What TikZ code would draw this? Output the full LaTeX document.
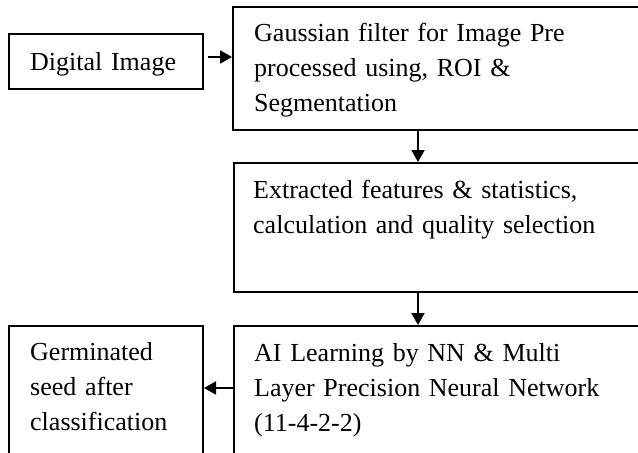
\documentclass[tikz,border=0pt]{standalone}
\usepackage{fontspec}
\setmainfont{Liberation Serif}
\usetikzlibrary{arrows.meta}
\begin{document}
\begin{tikzpicture}[x=1pt,y=-1pt,
  boxnode/.style={draw=black,line width=2pt,rectangle,inner sep=0pt,anchor=north west},
  txt/.style={anchor=base west,inner sep=0pt,text width=420pt,align=left,
    font=\fontsize{26}{35}\selectfont},
  arr/.style={line width=2pt,-{Triangle[length=12pt,width=13pt]}}]
\clip (0,0) rectangle (638,453);
\fill[white] (0,0) rectangle (638,453);
% boxes
\node[boxnode,minimum width=194pt,minimum height=55pt] (dig) at (8,33) {};
\node[boxnode,minimum width=480pt,minimum height=123pt] (gauss) at (232,6) {};
\node[boxnode,minimum width=480pt,minimum height=129pt] (ext) at (233,162) {};
\node[boxnode,minimum width=480pt,minimum height=200pt] (ai) at (233,325) {};
\node[boxnode,minimum width=194pt,minimum height=200pt] (germ) at (8,325) {};
% texts
\node[txt] (tdig) at (30,70) {Digital Image};
\node[txt] (tgauss) at (254,41) {Gaussian filter for Image Pre\\processed using, ROI \&\\Segmentation};
\node[txt] (text) at (253,198) {Extracted features \& statistics,\\calculation and quality selection};
\node[txt] (tai) at (254,361) {AI Learning by NN \& Multi\\Layer Precision Neural Network\\(11-4-2-2)};
\node[txt] (tgerm) at (30,360) {Germinated\\seed after\\classification};
% connectors
\coordinate (ax) at (418,0);
\coordinate (ay1) at (0,57);
\coordinate (ay2) at (0,388);
\draw[arr] ([xshift=4pt]ay1 -| dig.east) -- (ay1 -| gauss.west);
\draw[arr] (ax |- gauss.south) -- (ax |- ext.north);
\draw[arr] (ax |- ext.south) -- (ax |- ai.north);
\draw[arr] (ay2 -| ai.west) -- (ay2 -| germ.east);
\end{tikzpicture}
\end{document}
